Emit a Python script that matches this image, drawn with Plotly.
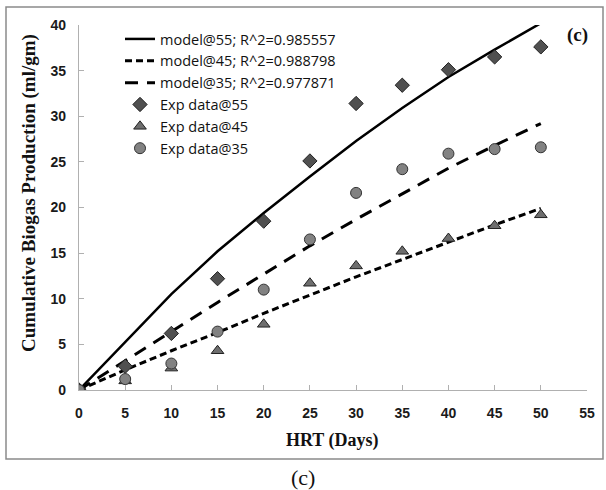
import plotly.graph_objects as go

hrt = [0, 5, 10, 15, 20, 25, 30, 35, 40, 45, 50]

model55 = [0, 5.3, 10.5, 15.2, 19.4, 23.4, 27.3, 30.9, 34.3, 37.3, 40.2]
model45 = [0, 2.2, 4.3, 6.3, 8.4, 10.4, 12.4, 14.3, 16.2, 18.1, 19.9]
model35 = [0, 3.2, 6.4, 9.6, 12.7, 15.8, 18.7, 21.5, 24.3, 26.8, 29.2]

exp55 = [0, 2.6, 6.2, 12.2, 18.5, 25.1, 31.4, 33.4, 35.1, 36.5, 37.6]
exp45 = [0, 1.0, 2.4, 4.3, 7.2, 11.7, 13.6, 15.2, 16.6, 18.0, 19.2]
exp35 = [0, 1.2, 2.9, 6.4, 11.0, 16.5, 21.6, 24.2, 25.9, 26.4, 26.6]

names = ["model@55; R^2=0.985557", "model@45; R^2=0.988798", "model@35; R^2=0.977871",
         "Exp data@55", "Exp data@45", "Exp data@35"]
x_ticks = [0, 5, 10, 15, 20, 25, 30, 35, 40, 45, 50, 55]
y_ticks = [0, 5, 10, 15, 20, 25, 30, 35, 40]

fig = go.Figure()
fig.add_trace(go.Scatter(x=hrt, y=model55, mode="lines", name=names[0],
                         line=dict(color="black", width=2.5, dash="solid")))
fig.add_trace(go.Scatter(x=hrt, y=model45, mode="lines", name=names[1],
                         line=dict(color="black", width=3, dash="7px,4px")))
fig.add_trace(go.Scatter(x=hrt, y=model35, mode="lines", name=names[2],
                         line=dict(color="black", width=3, dash="13px,9px")))
fig.add_trace(go.Scatter(x=hrt, y=exp55, mode="markers", name=names[3],
                         marker=dict(symbol="diamond", size=11, color="#505050",
                                     line=dict(color="#222222", width=1))))
fig.add_trace(go.Scatter(x=hrt, y=exp45, mode="markers", name=names[4],
                         marker=dict(symbol="triangle-up", size=11, color="#6e6e6e",
                                     line=dict(color="#222222", width=1))))
fig.add_trace(go.Scatter(x=hrt, y=exp35, mode="markers", name=names[5],
                         marker=dict(symbol="circle", size=11, color="#828282",
                                     line=dict(color="#333333", width=1))))

W, H = 606, 490
L, T = 79, 25
R = W - 587
B = H - 390
pw, ph = W - L - R, H - T - B


def px(xp):
    return (xp - L) / pw


def py(yp):
    return (H - B - yp) / ph


tickfont = dict(family="Liberation Sans", size=14, color="#1a1a1a", weight="bold")
fig.update_xaxes(range=[0, 55], tickvals=x_ticks, showline=True, linecolor="#b0b0b0",
                 linewidth=1.2, ticks="inside", ticklen=5, tickcolor="#b0b0b0",
                 showgrid=False, zeroline=False, tickfont=tickfont, ticklabelstandoff=10)
fig.update_yaxes(range=[0, 40], tickvals=y_ticks, showline=True, linecolor="#b0b0b0",
                 linewidth=1.2, ticks="inside", ticklen=5, tickcolor="#b0b0b0",
                 showgrid=False, zeroline=False, tickfont=tickfont, ticklabelstandoff=9)

fig.update_layout(
    width=W, height=H,
    margin=dict(l=L, r=R, t=T, b=B, autoexpand=False),
    plot_bgcolor="white", paper_bgcolor="white",
    showlegend=True,
    legend=dict(x=px(120), y=py(23), xanchor="left", yanchor="top",
                bgcolor="rgba(0,0,0,0)", tracegroupgap=0,
                font=dict(family="Open Sans", size=14.5, color="#111111")),
    shapes=[dict(type="rect", xref="paper", yref="paper",
                 x0=px(6), x1=px(603), y0=py(459), y1=py(7),
                 line=dict(color="#8a8a8a", width=1.5), layer="below")],
    annotations=[
        dict(text="<b>HRT (Days)</b>", xref="paper", yref="paper", x=px(332), y=py(440),
             xanchor="center", yanchor="middle", showarrow=False,
             font=dict(family="Liberation Serif", size=18, color="#111111")),
        dict(text="<b>Cumulative Biogas Production (ml/gm)</b>", xref="paper", yref="paper",
             x=px(29), y=py(193), xanchor="center", yanchor="middle", textangle=-90,
             showarrow=False, font=dict(family="Liberation Serif", size=19, color="#111111")),
        dict(text="<b>(c)</b>", xref="paper", yref="paper", x=px(577), y=py(35),
             xanchor="center", yanchor="middle", showarrow=False,
             font=dict(family="Liberation Serif", size=19, color="#111111")),
        dict(text="(c)", xref="paper", yref="paper", x=px(303), y=py(477),
             xanchor="center", yanchor="middle", showarrow=False,
             font=dict(family="Liberation Serif", size=22, color="#111111")),
    ],
)

fig.write_html("out.html", config={"displayModeBar": False},
               post_script="document.body.style.margin='0px';")
